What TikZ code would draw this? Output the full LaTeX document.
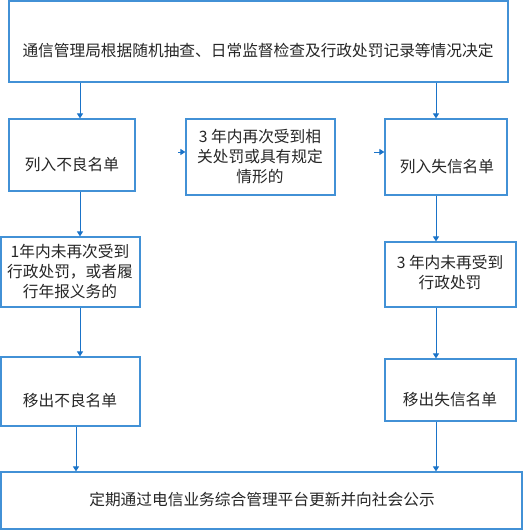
\documentclass[tikz,border=0pt]{standalone}
\usepackage{fontspec}
\setmainfont{Noto Sans CJK SC}
\usetikzlibrary{arrows.meta}
\definecolor{linec}{RGB}{26,115,200}
\definecolor{boxc}{RGB}{66,145,214}
\tikzset{
  box/.style={draw=boxc, line width=1.2pt, fill=white, inner sep=0pt},
  txt/.style={font=\fontsize{15.7pt}{20pt}\selectfont, align=center, inner sep=0pt, text=black!85},
  conn/.style={draw=linec, line width=1pt, -{Triangle[width=6pt,length=5pt]}}
}
\newcommand{\mybox}[5]{%
  \node[box, minimum width=#3-#1, minimum height=#4-#2] (#5) at ({(#1+#3)/2},{(#2+#4)/2}) {};}
\begin{document}
\begin{tikzpicture}[x=1pt,y=-1pt]
\useasboundingbox (0,0) rectangle (530,530);
\mybox{9}{1}{508}{82}{top}
\mybox{9}{119}{135}{191}{A}
\mybox{186}{119}{335}{195}{M}
\mybox{385}{119}{507}{195}{B}
\mybox{1}{237}{140}{307}{C}
\mybox{1}{357}{140}{426}{D}
\mybox{385}{242}{516}{307}{E}
\mybox{385}{359}{516}{421}{F}
\mybox{1}{472}{522}{529}{G}
\node[txt] (ttop) at (258,51) {通信管理局根据随机抽查、日常监督检查及行政处罚记录等情况决定};
\node[txt] (tA) at (72,165) {列入不良名单};
\node[txt] (tM) at (260,157) {3 年内再次受到相\\关处罚或具有规定\\情形的};
\node[txt] (tB) at (447,167) {列入失信名单};
\node[txt] (tC) at (70,272) {1年内未再次受到\\行政处罚，或者履\\行年报义务的};
\node[txt] (tD) at (70,400) {移出不良名单};
\node[txt] (tE) at (450,273) {3 年内未再受到\\行政处罚};
\node[txt] (tF) at (450,400) {移出失信名单};
\node[txt] (tG) at (262,500) {定期通过电信业务综合管理平台更新并向社会公示};
\coordinate (s1) at (178,152);
\coordinate (s2) at (374,152);
\draw[conn] (top.south -| 80,0) -- (A.north -| 80,0);
\draw[conn] (top.south -| 436,0) -- (B.north -| 436,0);
\draw[conn] (A.south -| 80,0) -- (C.north -| 80,0);
\draw[conn] (C.south -| 80,0) -- (D.north -| 80,0);
\draw[conn] (D.south -| 76,0) -- (G.north -| 76,0);
\draw[conn] (B.south -| 436,0) -- (E.north -| 436,0);
\draw[conn] (E.south -| 436,0) -- (F.north -| 436,0);
\draw[conn] (F.south -| 436,0) -- (G.north -| 436,0);
\draw[conn] (s1) -- (M.west |- s1);
\draw[conn] (s2) -- (B.west |- s2);
\end{tikzpicture}
\end{document}
